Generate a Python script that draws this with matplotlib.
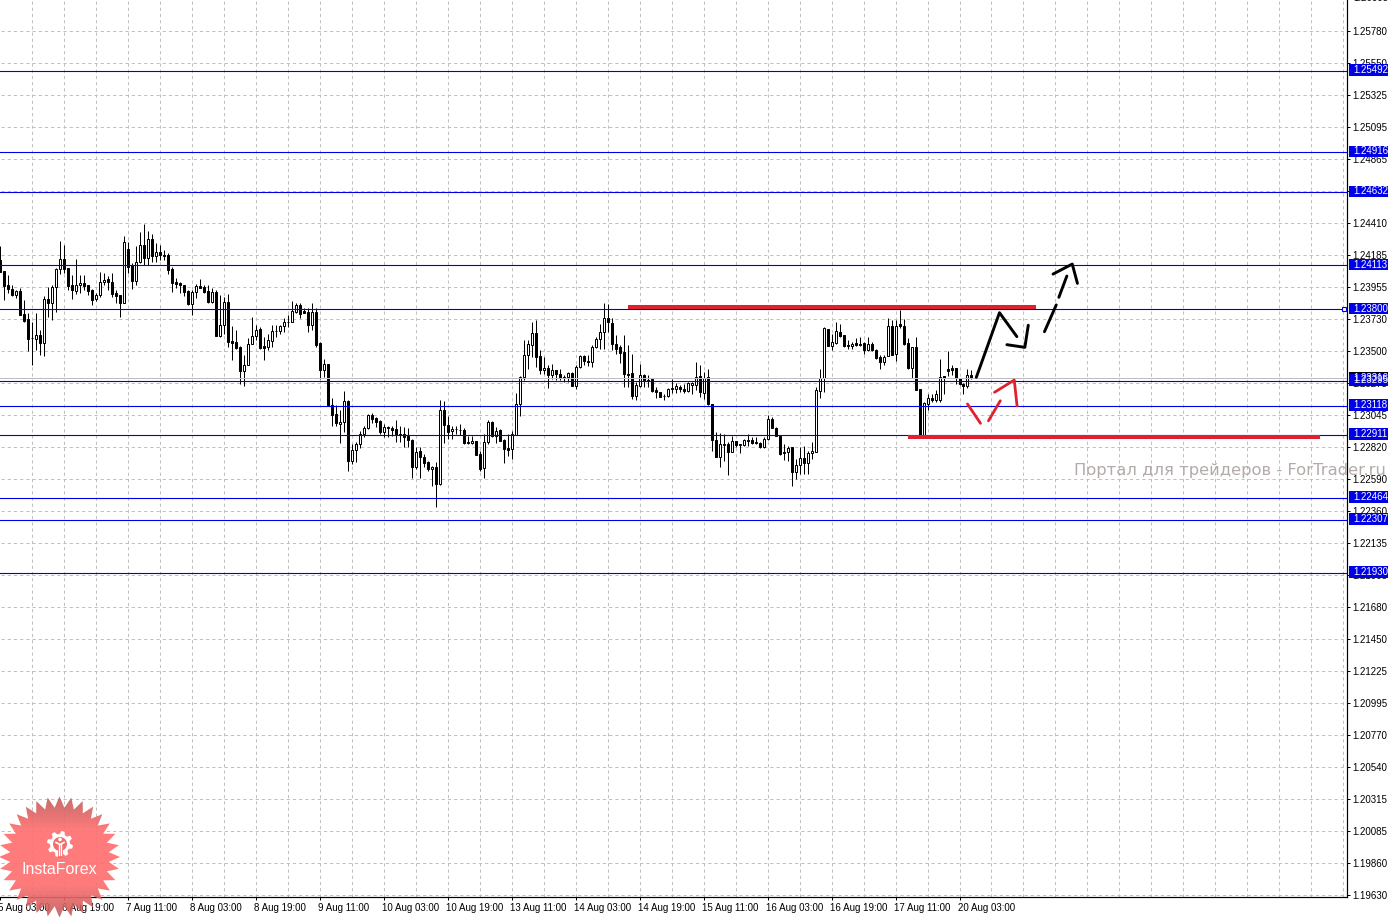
import numpy as np
import matplotlib
matplotlib.use("Agg")
import matplotlib.pyplot as plt
from matplotlib.patches import Rectangle, Polygon, Circle
from matplotlib.transforms import blended_transform_factory, ScaledTranslation

# Prices are stored as 1e-5 units above 1.20000
BASE = 1.2
UNIT = 1e-5

opens = [4152,4073,3971,3945,3905,3931,3765,3729,3594,3591,3622,3563,3872,3848,3962,4085,4157,4095,3971,3929,3971,3986,3974,3938,3876,3905,3993,4016,3995,3914,3902,3848,4228,4116,4005,4135,4259,4168,4301,4176,4209,4187,4185,4088,3993,3990,3971,3929,3838,3921,3967,3962,3931,3855,3924,3610,3693,3850,3575,3568,3532,3361,3408,3558,3610,3660,3539,3534,3577,3646,3646,3684,3710,3712,3784,3831,3788,3781,3689,3784,3563,3368,3416,
3119,3059,2986,3002,3152,2727,2803,2845,2914,2960,3054,3033,3005,2929,2969,2962,2955,2917,2914,2900,2876,2679,2796,2753,2715,2665,2684,2558,3083,2983,2938,2950,2943,2948,2862,2853,2869,2777,2672,2857,3002,2902,2948,2876,2815,2812,2912,3128,3320,3477,3548,3636,3468,3368,3387,3332,3368,3344,3314,3320,3349,3254,3392,3468,3437,3427,3530,3589,3643,3738,3703,3558,3534,3499,3344,3351,3183,3254,3332,3302,3304,3230,3216,3183,3183,3233,3235,3249,3237,3218,3261,3261,3325,3206,3318,3131,2876,2755,2841,2843,2791,2869,2839,2836,2876,2874,2862,2855,2826,2879,3026,2962,2905,2788,2786,2822,2644,2698,2748,2708,2779,2791,3221,3316,3662,3541,3565,3639,3617,3546,3544,3563,3558,3563,3513,3558,3515,3463,3425,3470,3686,3487,3696,3682,3563,3387,3530,3233,2912,3131,3173,3154,3154,3325,3380,3382,3382,3316,3273,3254,3335]
highs = [4251,4073,4045,3974,3938,3950,3867,3772,3712,3772,3653,3895,3962,3974,4092,4287,4259,4095,4045,4157,4045,4045,3974,3943,3914,4064,4057,4040,4057,3938,3902,4318,4282,4128,4247,4346,4408,4354,4337,4270,4259,4223,4199,4104,4021,3997,3974,3938,3938,3981,4014,3974,3974,3955,3938,3902,3886,3910,3684,3653,3539,3475,3594,3748,3689,3677,3606,3629,3689,3689,3689,3736,3760,3862,3843,3843,3807,3807,3843,3807,3570,3451,3416,
3173,3119,3083,3218,3159,2845,2857,2936,2976,3059,3064,3040,3017,2988,2976,2976,3012,2976,2964,2960,2881,2822,2822,2774,2727,2691,2720,3154,3147,3047,2976,2976,2988,2960,2905,2905,2869,2798,2917,3012,3007,2964,2952,2881,2917,2940,3209,3325,3582,3582,3712,3724,3515,3463,3404,3411,3373,3380,3332,3356,3356,3404,3475,3475,3475,3546,3606,3700,3843,3838,3736,3617,3546,3617,3546,3487,3285,3411,3344,3332,3316,3249,3216,3197,3242,3309,3278,3266,3273,3285,3285,3427,3404,3356,3380,3131,2929,2921,2917,2857,2905,2869,2845,2881,2917,2893,2893,2857,2893,3054,3040,2964,2910,2845,2834,2822,2739,2822,2834,2798,2857,3249,3380,3672,3662,3629,3712,3700,3622,3582,3570,3594,3606,3570,3606,3570,3522,3475,3475,3736,3724,3724,3796,3729,3594,3534,3606,3233,3142,3202,3197,3225,3451,3325,3506,3404,3382,3316,3278,3380,3368]
lows = [4069,3867,3914,3895,3883,3760,3712,3506,3404,3510,3475,3470,3743,3724,3784,4052,4057,3938,3874,3910,3914,3938,3902,3831,3862,3886,3974,3938,3886,3843,3748,3848,4057,3945,3974,4133,4116,4116,4140,4140,4152,4152,4052,3926,3950,3914,3898,3831,3760,3883,3950,3919,3848,3843,3610,3606,3629,3530,3444,3522,3268,3256,3404,3558,3582,3522,3439,3510,3534,3606,3629,3641,3677,3712,3772,3736,3772,3641,3653,3534,3309,3321,3119,
2976,2976,2850,2929,2656,2703,2715,2817,2893,2952,2993,2969,2917,2893,2893,2905,2857,2857,2822,2827,2601,2667,2603,2679,2656,2549,2399,2556,2850,2881,2881,2917,2912,2845,2845,2845,2770,2656,2601,2845,2893,2850,2869,2708,2762,2739,2912,3047,3302,3375,3463,3392,3340,3344,3242,3309,3302,3302,3285,3285,3254,3237,3387,3404,3396,3392,3527,3522,3522,3641,3515,3487,3420,3249,3249,3166,3159,3249,3249,3249,3214,3171,3178,3154,3178,3206,3206,3214,3206,3214,3202,3225,3178,3166,3119,2798,2750,2684,2727,2627,2786,2822,2781,2829,2834,2845,2845,2817,2817,2874,2960,2900,2770,2731,2727,2549,2596,2632,2632,2632,2739,2791,3173,3214,3539,3510,3558,3601,3534,3522,3522,3544,3544,3487,3506,3506,3451,3375,3404,3468,3475,3432,3670,3546,3380,3316,3225,2898,2912,3088,3142,3142,3142,3197,3325,3332,3273,3261,3202,3244,3309]
closes = [4069,3967,3948,3902,3929,3760,3720,3591,3596,3622,3563,3872,3848,3962,4085,4157,4088,3967,3938,3971,3986,3967,3933,3867,3900,3993,4009,3993,3910,3898,3848,4278,4104,4005,4135,4254,4164,4301,4176,4206,4183,4176,4081,3990,3981,3971,3924,3838,3921,3964,3952,3924,3855,3921,3610,3693,3850,3570,3563,3527,3361,3408,3558,3613,3653,3527,3527,3582,3646,3650,3686,3708,3714,3788,3831,3767,3777,3689,3784,3551,3373,3416,3119,
3054,2993,3002,3147,2727,2805,2845,2917,2962,3052,3026,3002,2929,2967,2957,2948,2917,2907,2893,2872,2679,2789,2750,2710,2665,2682,2558,3083,2983,2933,2955,2954,2947,2855,2850,2869,2770,2667,2862,3002,2902,2940,2869,2807,2805,2917,3131,3323,3480,3553,3636,3465,3368,3387,3332,3368,3340,3311,3318,3347,3254,3394,3468,3432,3427,3530,3589,3643,3738,3708,3553,3522,3494,3340,3335,3183,3266,3332,3297,3294,3218,3214,3178,3187,3233,3242,3254,3235,3218,3275,3278,3323,3214,3316,3126,2872,2755,2848,2845,2791,2867,2841,2843,2874,2864,2853,2850,2826,2883,3024,2962,2905,2777,2779,2819,2644,2698,2746,2708,2781,2798,3225,3316,3665,3539,3570,3648,3610,3539,3539,3558,3551,3551,3513,3553,3510,3453,3427,3465,3686,3475,3686,3684,3558,3385,3530,3228,2898,3138,3173,3154,3202,3323,3316,3363,3373,3311,3268,3254,3335,3313]

ytick_labels = ["1.25780","1.25550","1.25325","1.25095","1.24865","1.24635","1.24410","1.24185","1.23955","1.23730","1.23500",
                "1.23275","1.23045","1.22820","1.22590","1.22360","1.22135","1.21905","1.21680","1.21450","1.21225","1.20995",
                "1.20770","1.20540","1.20315","1.20085","1.19860","1.19630"]
YTICK_FIRST = 1.25779
YTICK_STEP = 0.0022707
date_labels = ["5 Aug 03:00","6 Aug 19:00","7 Aug 11:00","8 Aug 03:00","8 Aug 19:00","9 Aug 11:00",
               "10 Aug 03:00","10 Aug 19:00","13 Aug 11:00","14 Aug 03:00","14 Aug 19:00","15 Aug 11:00",
               "16 Aug 03:00","16 Aug 19:00","17 Aug 11:00","20 Aug 03:00"]
levels = [1.25492,1.24916,1.24632,1.24113,1.23800,1.23295,1.23118,1.22911,1.22464,1.22307,1.21930]
bid = 1.23316

red_levels = [(156.2,258.2,3817),(226.2,329.2,2895)]
red_paths = [[(241,3129),(244.25,2992)],[(246.25,3010),(249.2,3152)],
             [(247.75,3212),(252.7,3299),(253.4,3115)]]
black_paths = [[(243.2,3318),(249,3777),(253.35,3607)],
               [(250.85,3550),(255.35,3531),(256.2,3688)],
               [(260.25,3642),(263.2,3832)],[(263.85,3886),(265.85,4037)],
               [(262.4,4051),(267.2,4122),(268.5,3985)]]

assert len(opens)==len(highs)==len(lows)==len(closes), (len(opens),len(highs),len(lows),len(closes))

W, H = 1391, 917
FONT = "Liberation Sans"
FS = 7.0
plt.rcParams["font.family"] = FONT
fig = plt.figure(figsize=(W/100, H/100), dpi=100, facecolor="white")
AX_R, AX_B = 1347, 897
ax = fig.add_axes([0, (H-AX_B)/H, AX_R/W, AX_B/H], facecolor="white")

PX_PER_BAR = 4.0
X0 = 3.3
ax.set_xlim(-X0/PX_PER_BAR, (AX_R-X0)/PX_PER_BAR)
PX_UNIT = 7.096e-5
REF_P, REF_Y = 1.25492, 71.0
ax.set_ylim(REF_P-(AX_B-REF_Y)*PX_UNIT, REF_P+REF_Y*PX_UNIT)

ONE = 0.72
grid_c = "#c2bfbf"
dash = (0, (3.2, 3.0))
xs_grid = np.arange(7, 340, 8)
ytick_pos = YTICK_FIRST - YTICK_STEP*np.arange(len(ytick_labels))
ax.vlines(xs_grid, *ax.get_ylim(), colors=grid_c, lw=ONE, linestyles=dash, zorder=1)
ax.hlines(ytick_pos, *ax.get_xlim(), colors=grid_c, lw=ONE, linestyles=dash, zorder=1)

# candles
bars = np.arange(len(opens)) - 1
o = BASE + np.array(opens)*UNIT
h = BASE + np.array(highs)*UNIT
l = BASE + np.array(lows)*UNIT
c = BASE + np.array(closes)*UNIT
ax.vlines(bars, l, h, colors="black", lw=ONE, zorder=2)
up = c >= o
bw = 2.0/PX_PER_BAR
ax.bar(bars[up], (c-o)[up], bottom=o[up], width=bw, facecolor="white", edgecolor="black", lw=ONE, zorder=3)
ax.bar(bars[~up], (o-c)[~up], bottom=c[~up], width=bw, facecolor="black", edgecolor="black", lw=ONE, zorder=3)

# levels
BLUE = "#0000e6"
xl = ax.get_xlim()
ax.hlines([bid], xl[0]-2, xl[1], colors="#bdbdbd", lw=ONE, zorder=4)
ax.hlines(levels, xl[0]-2, xl[1], colors=BLUE, lw=ONE*1.1, zorder=4)
ax.set_xlim(*xl)

# hand drawn annotations
RED = "#e0202f"
for x0, x1, v in red_levels:
    ax.plot([x0, x1], [BASE+v*UNIT]*2, color=RED, lw=2.9, solid_capstyle="butt", zorder=6)
for path in red_paths:
    xy = np.array(path, float)
    ax.plot(xy[:,0], BASE+xy[:,1]*UNIT, color=RED, lw=2.0, zorder=6, solid_capstyle="round")
for path in black_paths:
    xy = np.array(path, float)
    ax.plot(xy[:,0], BASE+xy[:,1]*UNIT, color="black", lw=2.1, zorder=6, solid_capstyle="round")

# axes decorations
for s in ("top", "left"):
    ax.spines[s].set_visible(False)
for s in ("right", "bottom"):
    ax.spines[s].set_linewidth(ONE*1.2)
ax.yaxis.tick_right()
ax.set_yticks(ytick_pos)
ax.set_yticklabels(ytick_labels, fontsize=FS)
label_bars = -1 + 16*np.arange(len(date_labels))
ax.set_xticks(label_bars)
ax.set_xticklabels(date_labels, fontsize=FS, ha="left")
ax.tick_params(axis="y", length=2.5, width=ONE, pad=1.2)
ax.tick_params(axis="x", length=2.5, width=ONE, pad=1.5)
shift = ScaledTranslation(-1.5/72*0.72, 0, fig.dpi_scale_trans)
for t in ax.get_xticklabels():
    t.set_transform(t.get_transform() + shift)

tr = blended_transform_factory(ax.transAxes, ax.transData)
ax.text(1353/AX_R, 1.26005+0.00002, "1.26005", transform=tr, fontsize=FS, va="center", ha="left", clip_on=False)

def tag(price, color, text, ycenter_shift=0.8, h_px=11.5):
    x0 = 1349/AX_R
    wd = 38.5/AX_R
    yc = price + ycenter_shift*PX_UNIT
    ax.add_patch(Rectangle((x0, yc-h_px/2*PX_UNIT), wd, h_px*PX_UNIT, transform=tr,
                           facecolor=color, edgecolor="none", clip_on=False, zorder=7))
    ax.text(1353/AX_R, yc, text, transform=tr, color="white", fontsize=FS,
            va="center", ha="left", clip_on=False, zorder=8)

tag(bid, "black", f"{bid:.5f}", ycenter_shift=0.0, h_px=12)
for v in levels:
    tag(v, BLUE, f"{v:.5f}")

# selected-line handle
ax.plot([335.25], [1.23800], marker="s", ms=3.2, mfc="white", mec=BLUE, mew=0.8,
        clip_on=False, zorder=7)

# watermark
ax.text(1386/AX_R, REF_P-(470.5-REF_Y)*PX_UNIT, "Портал для трейдеров - ForTrader.ru",
        transform=tr, family="DejaVu Sans", fontsize=11.8, color="#b4aaaa", ha="right", va="center",
        clip_on=False, zorder=5)

# badge overlay (pixel coordinates)
ov = fig.add_axes([0, 0, 1, 1], facecolor="none", zorder=10)
ov.set_xlim(0, W); ov.set_ylim(H, 0); ov.axis("off")
cx, cy, N = 59.5, 857, 32
ang = np.linspace(0, 2*np.pi, 2*N, endpoint=False) - np.pi/2
rad = np.where(np.arange(2*N) % 2 == 0, 60.5, 49.5)
star = Polygon(np.c_[cx+rad*np.cos(ang), cy+rad*np.sin(ang)], closed=True, transform=ov.transData,
               facecolor="none", edgecolor="none")
ov.add_patch(star)
ys = np.linspace(0, 1, 128)
top = np.array([190, 88, 88, 225])/255
mid = np.array([255, 112, 112, 235])/255
w = np.clip((0.5-np.abs(ys-0.5))/0.28, 0, 1)
grad = (top[None]*(1-w[:,None]) + mid[None]*w[:,None])[:,None,:]
im = ov.imshow(grad, extent=[cx-62, cx+62, cy+62, cy-62], aspect="auto", zorder=1, interpolation="bilinear")
im.set_clip_path(star)
ov.set_xlim(0, W); ov.set_ylim(H, 0)
# gear logo
gx, gy = 60, 844
gang = np.linspace(0, 2*np.pi, 48, endpoint=False)
grad_r = np.where((np.arange(48)//3) % 2 == 0, 13, 10)
ov.add_patch(Polygon(np.c_[gx+grad_r*np.cos(gang+0.1), gy+grad_r*np.sin(gang+0.1)], closed=True,
                     facecolor="white", edgecolor="none", zorder=2))
ov.add_patch(Circle((gx, gy), 7, facecolor="#f56c6c", edgecolor="none", zorder=3))
ov.add_patch(Rectangle((gx-2.5, gy+6), 5, 8, facecolor="#f56c6c", edgecolor="none", zorder=3))
ov.add_patch(Circle((gx, gy-4.5), 1.8, facecolor="white", edgecolor="none", zorder=4))
ov.plot([gx-4, gx, gx+4], [gy-1.5, gy+0.5, gy-1.5], color="white", lw=1.2, zorder=4)
ov.plot([gx-1.2, gx-1.2], [gy, gy+11], color="white", lw=1.0, zorder=4)
ov.plot([gx+1.2, gx+1.2], [gy, gy+11], color="white", lw=1.0, zorder=4)
ov.text(59.5, 869, "InstaForex", color="white", fontsize=11.5, family="Liberation Sans",
        ha="center", va="center", zorder=4)

fig.savefig("out.png", dpi=100, facecolor="white")
